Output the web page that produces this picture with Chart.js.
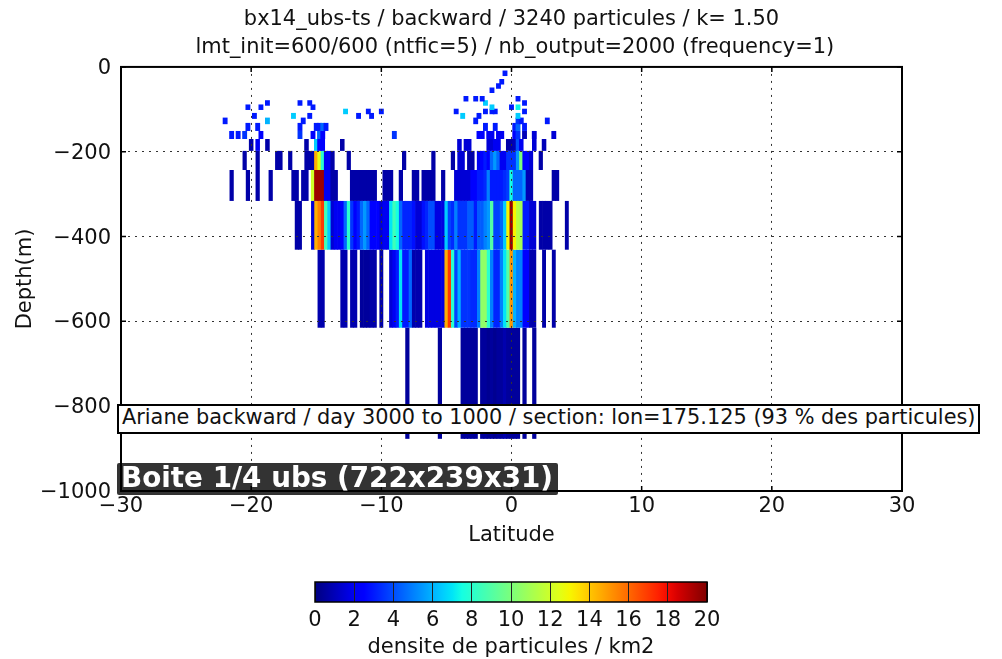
<!DOCTYPE html>
<html><head><meta charset="utf-8">
<script src="https://cdn.jsdelivr.net/npm/chart.js@4/dist/chart.umd.js"></script>
<style>
html,body{margin:0;padding:0;background:#fff;width:1002px;height:659px;overflow:hidden;font-family:"DejaVu Sans",sans-serif}
canvas{position:absolute;left:0;display:block}
.note{position:absolute;white-space:nowrap;box-sizing:border-box}
#n1{left:117px;top:404px;width:863px;height:30px;background:#fff;border:2px solid #000;color:#111;font-size:20.85px;line-height:23px;padding-left:3px}
#n2{left:117px;top:463px;width:441px;height:32px;background:rgba(0,0,0,.8);color:#fff;font-size:27.8px;font-weight:bold;line-height:29px;padding-left:4px;border-radius:2px}
</style></head><body>
<canvas id="main" width="1002" height="560" style="top:0;width:1002px;height:560px"></canvas>
<canvas id="bar" width="1002" height="99" style="top:560px;width:1002px;height:99px"></canvas>
<div class="note" id="n1">Ariane backward / day 3000 to 1000 / section: lon=175.125 (93 % des particules)</div>
<div class="note" id="n2">Boite 1/4 ubs (722x239x31)</div>
<script>
const titleLines=["bx14_ubs-ts / backward / 3240 particules / k= 1.50"," lmt_init=600/600 (ntfic=5) / nb_output=2000 (frequency=1)"];
const xLabel="Latitude", yLabel="Depth(m)", barLabel="densite de particules / km2";
const vmin=0, vmax=20;

const lat_10=[-0.5], val_10=[3];
const lat_30=[-0.75], val_30=[3];
const lat_40=[-1], val_40=[3];
const lat_50=[-1.5], val_50=[3];
const lat_70=[-3.5,-2.75,-2.25,0.5], val_70=[3,3,3,3];
const lat_80=[-18.75,-16.25,-15.5,-2,1], val_80=[3,3,3,6.5,3];
const lat_90=[-20.25,-19.25,-15.25,-1.5,0,0.5], val_90=[3,3,3,6.5,3,7.3];
const lat_100=[-12.75,-11,-10,-4.25,-2,-1.5,-1.25,1], val_100=[6.5,3,3,3,3,3,3,3];
const lat_110=[-19.75,-16.75,-15.5,-11.75,-10.75,-3.75,-2.5,0.5], val_110=[3,6.5,3,3,3,6.5,3,6.5];
const lat_121=[-22,-18.75,-16,-2.75,0.5,0.75,2.75], val_121=[3,6,3,3,3.5,3,3];
const lat_134=[-20.25,-19.5,-16.25,-15,-14.75,-14.5,-14.25,-2,-1.25,0.25,0.5,1], val_134=[3,3,3,3,3,4.5,3,3,3,3,4.5,3];
const lat_151=[-21.5,-21,-20.5,-19.25,-16.25,-15.25,-14.75,-14.5,-9,-2.5,-2.25,-1.75,-1.5,-1,-0.75,0.25,0.5,1,1.75,3.25],
      val_151=[3,3,3.5,2.5,3.5,2.5,4.5,2.5,3.5,2.5,2.5,2,2,2,2,2.5,3.5,1,1.5,1.5];
const lat_170=[-20,-19.5,-18.75,-15.75,-15,-14.75,-14.5,-13,-4,-3.5,-3.25,-1.75,-1.5,-1.25,-1,-0.25,0,0.25,0.5,0.75,1.75,2.5],
      val_170=[0.7,2,0.7,0.7,6.5,2.5,2.5,0.7,1.5,1.5,1.5,1.5,1.5,2,2,0.7,0.7,1,4,2,1.5,1];
const lat_198=[-20.5,-19.5,-18,-17.75,-17,-15.75,-15.5,-15.25,-15,-14.75,-14.5,-14.25,-14,-13.75,-12.5,-8.25,-6,-4.5,-4,-3.75,-3.25,-3,-2.5,-2.25,-2,-1.75,-1.5,-1.25,-1,-0.75,-0.5,-0.25,0,0.25,0.5,0.75,1,1.25,1.5,2.25],
      val_198=[0.7,0.7,0.7,0.7,0.7,0.7,0.7,0.7,14.5,12.5,8,2,2,0.7,0.7,0.7,0.7,0.7,1.5,1.5,0.7,0.7,2,2.5,3,2.5,4.5,5.5,4.5,2,2,3.5,3.5,3.5,5.5,10,2.5,2.5,1.5,0.7];
const lat_243=[-21.5,-20.25,-19.5,-18.5,-16.75,-16.5,-16,-15.75,-15.25,-15,-14.75,-14.5,-14.25,-14,-13.75,-13.5,-12.25,-12,-11.75,-11.5,-11.25,-11,-10.75,-10.5,-9.75,-9.5,-9.25,-8.5,-7.5,-7.25,-6.75,-6.5,-6.25,-6,-5.25,-4.25,-4,-3.75,-3.5,-3.25,-3,-2.75,-2.5,-2.25,-2,-1.75,-1.5,-1.25,-1,-0.75,-0.5,-0.25,0,0.25,0.5,0.75,1,1.25,1.5,3.25,3.5],
      val_243=[0.7,0.7,0.7,0.7,0.7,0.7,0.7,0.7,12,19.5,19.5,19.5,2,2,0.7,0.7,0.7,0.7,0.7,0.7,0.7,0.7,0.7,0.7,0.7,0.7,0.7,0.7,0.7,0.7,0.7,0.7,0.7,0.7,0.7,1.5,1.5,1.5,1.5,1.5,2.3,2.3,3,3,3.3,5,3,3,3,3,3.3,3.7,7.5,4.5,4.5,4.5,5.5,0.9,0.9,0.7,0.7];
const lat_316=[-16.5,-16.25,-15.25,-15,-14.75,-14.5,-14.25,-14,-13.75,-13.5,-13.25,-13,-12.75,-12.5,-12.25,-12,-11.75,-11.5,-11.25,-11,-10.75,-10.5,-10.25,-10,-9.75,-9.5,-9.25,-9,-8.75,-8.5,-8.25,-8,-7.75,-7.5,-7.25,-7,-6.75,-6.5,-6.25,-6,-5.75,-5.5,-5.25,-5,-4.75,-4.5,-4.25,-4,-3.75,-3.5,-3.25,-3,-2.75,-2.5,-2.25,-2,-1.75,-1.5,-1.25,-1,-0.75,-0.5,-0.25,0,0.25,0.5,0.75,1,1.25,1.5,1.75,2.25,2.5,2.75,3,4.25],
      val_316=[0.7,0.7,1.5,14.5,15.5,17,8.5,6.5,1.5,2,2,2.5,4.5,8,3.5,2.5,3,4.5,5.5,4.5,2.5,2.5,2.5,1.5,2,2,7,8.5,7.5,4.5,3.2,3.2,3.2,2.8,1.5,1.5,2.8,3.2,4,4,1.7,1.7,1.7,6.5,3.8,3.3,5,3.5,3.5,3.5,4.3,4.3,3,4.3,4.3,5,5.5,9,3.8,3.8,4.5,6.5,13,19.5,13,11.5,11,3,3,1.5,1.5,0.7,0.7,0.7,0.7,0.7];
const lat_431=[-14.75,-14.5,-13,-12.75,-12.25,-12,-11.5,-11.25,-11,-10.75,-10.5,-10,-9.25,-9,-8.75,-8.5,-8.25,-8,-7.75,-7.5,-7.25,-7,-6.5,-6.25,-6,-5.75,-5.5,-5.25,-5,-4.75,-4.5,-4.25,-4,-3.75,-3.5,-3.25,-3,-2.75,-2.5,-2.25,-2,-1.75,-1.5,-1.25,-1,-0.75,-0.5,-0.25,0,0.25,0.5,0.75,1,1.25,1.5,1.75,2.5,3.25],
      val_431=[0.8,0.8,0.8,0.8,0.8,0.8,0.5,0.5,0.5,0.7,0.7,0.7,1.5,2,3,7,3,3,4.5,0.8,0.8,0.8,1.7,1.7,1.7,1.7,1.7,1.7,14.5,17,8,3.8,6,3.5,3.5,3.5,3.3,3.3,5,10.5,10.5,8,5,3.2,3.2,5,7,9,15,6,5,5,2.3,2.3,0.8,0.8,0.7,0.7];
const lat_615=[-8,-5.5,-3.75,-3.5,-3.25,-3,-2.75,-2.25,-2,-1.75,-1.5,-1.25,-1,-0.75,-0.5,-0.25,0,0.25,0.5,1,1.75],
      val_615=[0.5,0.5,0.5,0.5,0.5,0.5,0.5,0.5,0.5,0.3,0.5,0.3,0.5,0.5,0.8,0.5,0.5,0.5,0.5,0.5,0.5];

const rows=[
 [-8.5,-21.5,lat_10,val_10,1.5],[-28.5,-41.5,lat_30,val_30,1.5],[-38.5,-51.5,lat_40,val_40,1.5],[-48.5,-61.5,lat_50,val_50,1.5],
 [-68.5,-81.5,lat_70,val_70,1.5],[-78.5,-91.5,lat_80,val_80,1.5],[-88.5,-101.5,lat_90,val_90,1.5],[-98.5,-111.5,lat_100,val_100,1.5],
 [-108.5,-122.5,lat_110,val_110,1.5],[-119.5,-135,lat_121,val_121,1.5],[-132,-151,lat_134,val_134,1.5],[-151,-170,lat_151,val_151,1.5],
 [-170,-198,lat_170,val_170,1.4],[-198,-243,lat_198,val_198,1.3],[-243,-316,lat_243,val_243,1.3],[-316,-431,lat_316,val_316,1.2],
 [-431,-615,lat_431,val_431,1.2],[-615,-877,lat_615,val_615,1.3]
];

function seg(p,t){for(let i=1;i<p.length;i++){if(t<=p[i][0]){const a=p[i-1],b=p[i];return a[1]+(b[1]-a[1])*(t-a[0])/(b[0]-a[0]);}}return p[p.length-1][1];}
const R=[[0,0],[.35,0],[.66,1],[.89,1],[1,.5]],G=[[0,0],[.125,0],[.375,1],[.64,1],[.91,0],[1,0]],B=[[0,.5],[.11,1],[.34,1],[.65,0],[1,0]];
function jet(v){const t=Math.max(0,Math.min(1,(v-vmin)/(vmax-vmin)));return `rgb(${Math.round(255*seg(R,t))},${Math.round(255*seg(G,t))},${Math.round(255*seg(B,t))})`;}

const minusFmt=v=>String(v).replace('-','\u2212');
const frame={id:'frame',
 beforeDraw(c,a,o){
  if(o.ticks&&!c.$shifted){c.$shifted=true;c.scales.y.getLabelItems(c.chartArea).forEach(i=>{i.options.translation[1]+=1.5;});}
 },
 afterDraw(c,a,o){
  const {left,right,top,bottom}=c.chartArea,x=c.ctx;
  x.save();x.strokeStyle='#000';x.lineWidth=1.5;x.beginPath();
  if(o.ticks){
    c.scales.x.ticks.forEach(t=>{const p=c.scales.x.getPixelForValue(t.value);x.moveTo(p,top);x.lineTo(p,top+5);x.moveTo(p,bottom);x.lineTo(p,bottom-5);});
    c.scales.y.ticks.forEach(t=>{const p=c.scales.y.getPixelForValue(t.value);x.moveTo(left,p);x.lineTo(left+5,p);x.moveTo(right,p);x.lineTo(right-5,p);});
  }
  x.stroke();x.lineWidth=o.width||2;x.strokeRect(left,top,right-left,bottom-top);x.restore();
}};
Chart.defaults.font.family='"DejaVu Sans"';
Chart.defaults.color='#111';
Chart.defaults.animation=false;

new Chart(document.getElementById('main'),{
 type:'bar',
 data:{datasets:rows.map(r=>({
   grouped:false,barPercentage:r[4],categoryPercentage:1,
   backgroundColor:r[3].map(jet),
   data:r[2].map(l=>({x:l,y:[r[0],r[1]]}))
 }))},
 plugins:[frame],
 options:{responsive:false,animation:false,
  layout:{padding:{left:0,right:100,top:0,bottom:0}},
  plugins:{legend:{display:false},tooltip:{enabled:false},frame:{ticks:true},
   title:{display:true,fullSize:false,text:titleLines,color:'#111',font:{size:20.95,weight:'normal',lineHeight:1.33},padding:{top:6,bottom:5.2}}},
  scales:{
   x:{type:'linear',min:-30,max:30,offset:false,
      ticks:{stepSize:10,callback:minusFmt,font:{size:21},padding:3,maxRotation:0,color:'#111'},
      grid:{z:1,offset:false,color:'#333',drawTicks:false,lineWidth:1},border:{dash:[2,5],display:false},
      title:{display:true,text:xLabel,font:{size:21},color:'#111',padding:{top:5,bottom:12}},
      afterFit:s=>{s.height=69;}},
   y:{type:'linear',min:-1000,max:0,
      ticks:{stepSize:200,callback:minusFmt,font:{size:21},padding:10,color:'#111'},
      grid:{z:1,color:'#333',drawTicks:false,lineWidth:1},border:{dash:[2,5],display:false},
      title:{display:true,text:yLabel,font:{size:21},color:'#111',padding:{top:13,bottom:0}},
      afterFit:s=>{s.width=121;}}
  }
 }
});

const barRange=[0,20];
const barTicks=2;
new Chart(document.getElementById('bar'),{
 type:'bar',
 data:{labels:[''],datasets:[{data:[barRange],barPercentage:1,categoryPercentage:1,
   backgroundColor:(c)=>{const a=c.chart.chartArea;if(!a)return '#00f';
     const g=c.chart.ctx.createLinearGradient(a.left,0,a.right,0);
     for(let i=0;i<=40;i++)g.addColorStop(i/40,jet(i/2));return g;}}]},
 plugins:[frame],
 options:{indexAxis:'y',responsive:false,animation:false,
  layout:{padding:{left:315,right:295,top:22,bottom:0}},
  plugins:{legend:{display:false},tooltip:{enabled:false},frame:{ticks:false,width:1.5}},
  scales:{
   x:{type:'linear',min:barRange[0],max:barRange[1],
      ticks:{stepSize:barTicks,font:{size:21},padding:6,color:'#111',maxRotation:0,autoSkip:false},
      grid:{z:1,offset:false,color:'#222',drawTicks:false,lineWidth:1},border:{display:false},
      title:{display:true,text:barLabel,font:{size:21},color:'#111',padding:{top:1,bottom:-1}},
      afterFit:s=>{s.height=57;}},
   y:{display:false}
  }
 }
});
</script>
</body></html>
